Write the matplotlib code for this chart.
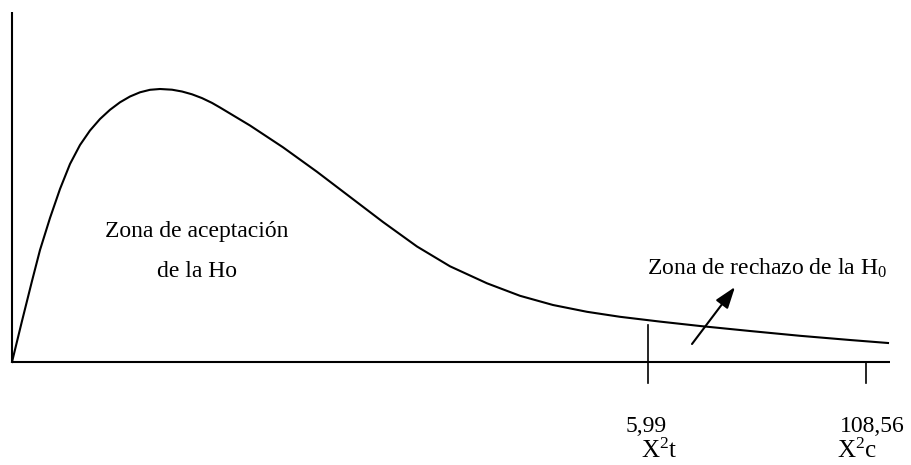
import matplotlib
matplotlib.use("Agg")
import matplotlib.pyplot as plt

plt.rcParams['font.family'] = ['Liberation Serif', 'DejaVu Serif']
plt.rcParams['mathtext.fontset'] = 'custom'
plt.rcParams['mathtext.rm'] = 'Liberation Serif'
plt.rcParams['mathtext.it'] = 'Liberation Serif'

# --- curva (leida a mano del dibujo) ---
curva_x = [0, 10, 20, 28, 38, 48, 58, 68, 78, 88, 98, 108, 118, 128, 138, 148,
           160, 170, 180, 190, 200, 208, 238, 271, 305, 338, 371, 405, 438, 475,
           508, 541, 575, 608, 648, 688, 738, 788, 838, 876]
curva_y = [0, 41, 81, 112, 144, 173, 198, 217, 231.5, 243, 252.2, 259.7, 265.5, 269.7, 272.2, 273,
           272.3, 270.5, 267.7, 263.9, 259.1, 254.5, 236.5, 214.7, 190.2, 165.1, 140, 115.5, 95.7, 78.7,
           66.2, 57, 50.2, 45.2, 40.4, 36, 31, 26.2, 22, 19]

# --- marcas sobre el eje ---
marca_x = [636, 854]
marca_arriba = [37, 0]
valores = ["5,99", "108,56"]
nombres = [r"X$^2$t", r"X$^2$c"]
desp_valor = [-2, 6]
desp_nombre = [11, -9]

fig = plt.figure(figsize=(9.11, 4.65), dpi=100)
ax = fig.add_axes([0, 0, 1, 1])
ax.set_xlim(-12, 899)
ax.set_ylim(-103, 362)
ax.axis('off')

lw = 1.5
ax.plot([0, 0], [0, 350], color='black', lw=lw, solid_capstyle='butt')
ax.plot([0, 878], [0, 0], color='black', lw=lw, solid_capstyle='butt')
ax.plot(curva_x, curva_y, color='black', lw=lw, solid_joinstyle='round')

for x, top, v, n, dv, dn in zip(marca_x, marca_arriba, valores, nombres, desp_valor, desp_nombre):
    ax.plot([x, x], [top, -21], color='black', lw=1.2)
    ax.text(x + dv, -70, v, ha='center', va='baseline', fontsize=17)
    ax.text(x + dn, -96, n, ha='center', va='baseline', fontsize=18)

ax.text(185, 125, "Zona de aceptación", ha='center', va='baseline', fontsize=17)
ax.text(185, 85, "de la Ho", ha='center', va='baseline', fontsize=17)
ax.text(755, 87, r"Zona de rechazo de la H$_0$", ha='center', va='baseline', fontsize=17)

ax.annotate("", xy=(723, 75), xytext=(680, 18),
            arrowprops=dict(arrowstyle='-|>,head_length=1.3,head_width=0.45',
                            color='black', lw=1.5, shrinkA=0, shrinkB=0))

fig.savefig("out.png", dpi=100)
